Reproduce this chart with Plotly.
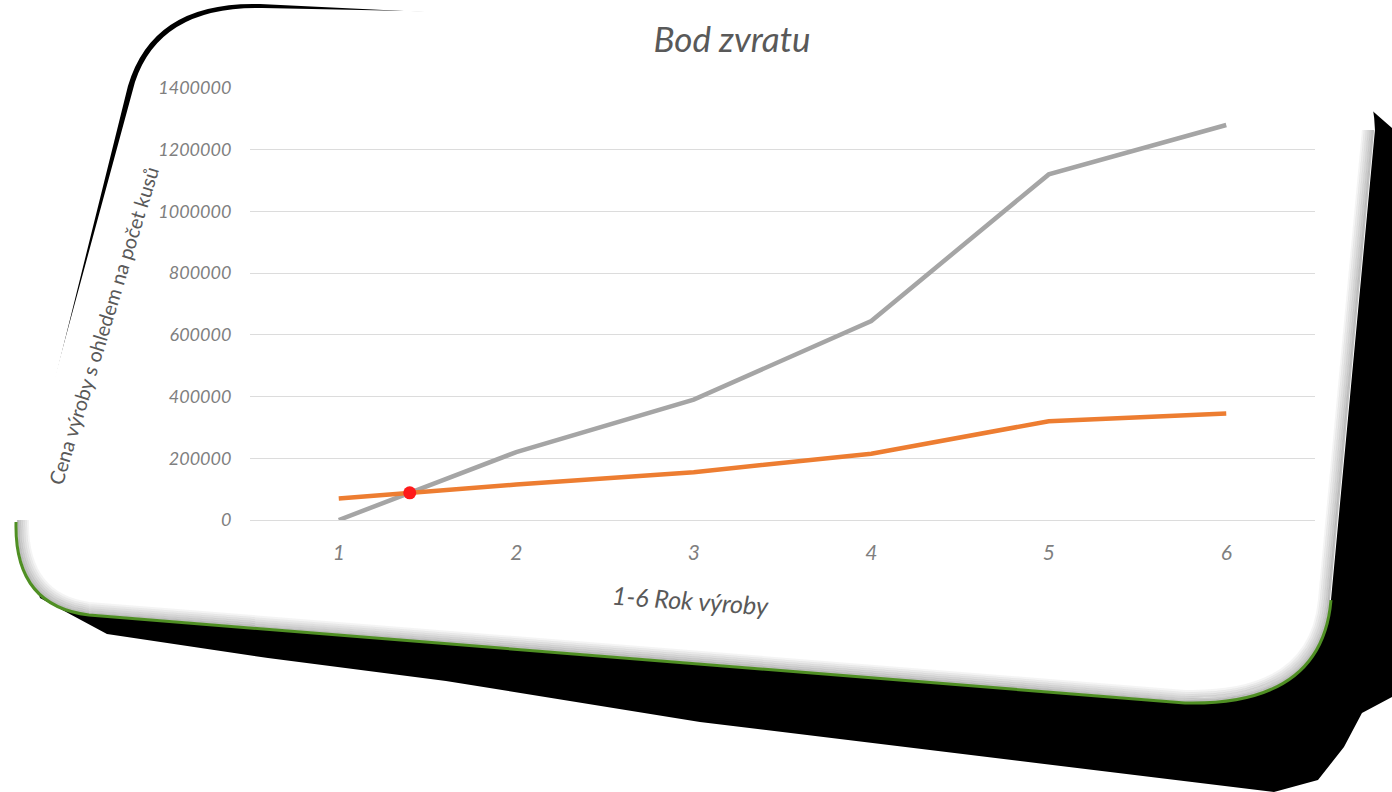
import plotly.graph_objects as go

# ---------------- data ----------------
years = [1, 2, 3, 4, 5, 6]
year_labels = ["1", "2", "3", "4", "5", "6"]
gray_values = [0, 220000, 390000, 645000, 1120000, 1280000]
orange_values = [70000, 115000, 155000, 215000, 320000, 345000]
y_ticks = [0, 200000, 400000, 600000, 800000, 1000000, 1200000, 1400000]
y_tick_labels = [str(v) for v in y_ticks]

title_text = "Bod zvratu"
x_title = "1-6 Rok výroby"
y_title = "Cena výroby s ohledem na počet kusů"


def breakeven(xs, a, b):
    for i in range(len(xs) - 1):
        d0 = a[i] - b[i]
        d1 = a[i + 1] - b[i + 1]
        if d0 == 0:
            return xs[i], a[i]
        if d0 * d1 < 0:
            t = d0 / (d0 - d1)
            return xs[i] + t * (xs[i + 1] - xs[i]), a[i] + t * (a[i + 1] - a[i])
    return None, None


be_x, be_y = breakeven(years, gray_values, orange_values)

# ---------------- geometry (decorative card) ----------------
W, H = 1392, 792
L, R, T, B = 250, 1315, 88, 520


def px(x, y):
    return (x - L) / (R - L), (B - y) / (B - T)


def P(x, y):
    a, b = px(x, y)
    return f"{a:.4f},{b:.4f}"


card_path = (f"M {P(135,82)} Q {P(160,6)} {P(262,8)} L {P(1268,28)} "
             f"Q {P(1372,32)} {P(1375,130)} L {P(1331,600)} "
             f"Q {P(1322,706)} {P(1185,703)} L {P(89,615)} "
             f"Q {P(14,606)} {P(16,520)} Z")

shadow_path = (f"M {P(45,420)} L {P(128,86)} Q {P(153,1)} {P(260,4)} L {P(445,13)} "
               f"L {P(700,300)} L {P(1360,100)} L {P(1392,128)} L {P(1392,697)} "
               f"L {P(1362,713)} L {P(1344,747)} L {P(1318,780)} L {P(1274,792)} "
               f"L {P(700,722)} L {P(446,681)} L {P(268,658)} L {P(107,634)} "
               f"L {P(40,598)} L {P(30,560)} Z")

green_path = (f"M {P(16,522)} Q {P(14,606)} {P(89,615)} L {P(1185,703)} "
              f"Q {P(1322,706)} {P(1331,600)}")


def bevel_path(o):
    return (f"M {P(16+o,520)} Q {P(14+o,606-o)} {P(89,615-o)} L {P(1185,703-o)} "
            f"Q {P(1322-o,706-o)} {P(1331-o,600)} L {P(1375-o,130)}")


shapes = [
    dict(type="path", path=shadow_path, xref="paper", yref="paper",
         fillcolor="black", line=dict(width=0), layer="below"),
    dict(type="path", path=card_path, xref="paper", yref="paper",
         fillcolor="white", line=dict(width=0), layer="below"),
]
for o in [12, 10, 8, 6, 4, 2]:
    a = 0.55 * (1 - o / 14)
    shapes.append(dict(type="path", path=bevel_path(o), xref="paper", yref="paper",
                       line=dict(color=f"rgba(120,120,120,{a:.2f})", width=2.2),
                       layer="below"))
shapes.append(dict(type="path", path=green_path, xref="paper", yref="paper",
                   line=dict(color="#4f8f23", width=3), layer="below"))

yt_x, yt_y = px(103, 326)
xt_x, xt_y = px(690, 600)
annotations = [
    dict(text=y_title, xref="paper", yref="paper", x=yt_x, y=yt_y,
         xanchor="center", yanchor="middle", showarrow=False, textangle=-73,
         font=dict(family="Lato", size=20, color="#595959", style="normal")),
    dict(text=x_title, xref="paper", yref="paper", x=xt_x, y=xt_y,
         xanchor="center", yanchor="middle", showarrow=False, textangle=4,
         font=dict(family="Lato", size=25, color="#595959", style="italic")),
]

fig = go.Figure()
fig.add_trace(go.Scatter(x=years, y=gray_values, mode="lines",
                         line=dict(color="#a5a5a5", width=4.5), name="gray"))
fig.add_trace(go.Scatter(x=years, y=orange_values, mode="lines",
                         line=dict(color="#ed7d31", width=4.5), name="orange"))
fig.add_trace(go.Scatter(x=[be_x], y=[be_y], mode="markers",
                         marker=dict(color="#ff1a1a", size=13), name="bod zvratu"))

fig.update_layout(
    width=W, height=H,
    margin=dict(l=L, r=W - R, t=T, b=H - B),
    paper_bgcolor="white",
    plot_bgcolor="rgba(0,0,0,0)",
    showlegend=False,
    font=dict(family="Lato", color="#7f7f7f"),
    shapes=shapes,
    annotations=annotations,
    title=dict(text=title_text, x=732 / W, xref="container", xanchor="center",
               y=1 - 40 / H, yref="container", yanchor="middle",
               font=dict(size=35, color="#595959", style="italic")),
    xaxis=dict(range=[0.5, 6.5], tickvals=years, ticktext=year_labels,
               showgrid=False, zeroline=False, showline=False,
               ticks="outside", ticklen=14, tickcolor="rgba(0,0,0,0)",
               tickfont=dict(size=21, color="#7f7f7f", style="italic")),
    yaxis=dict(range=[0, 1400000], tickvals=y_ticks, ticktext=y_tick_labels,
               showgrid=True, gridcolor="#dcdcdc", gridwidth=1,
               zeroline=True, zerolinecolor="#dcdcdc", zerolinewidth=1,
               showline=False,
               ticks="outside", ticklen=14, tickcolor="rgba(0,0,0,0)",
               tickfont=dict(size=18, color="#7f7f7f", style="italic")),
)

fig.write_html("out.html", config={"displayModeBar": False},
               post_script="document.body.style.margin='0';")
